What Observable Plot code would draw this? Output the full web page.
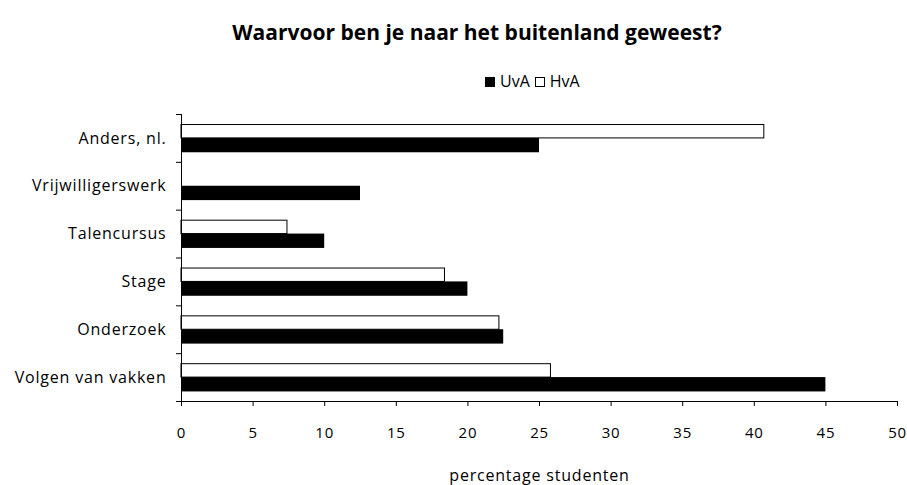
<!DOCTYPE html>
<html>
<head>
<meta charset="utf-8">
<script src="https://cdn.jsdelivr.net/npm/d3@7"></script>
<script src="https://cdn.jsdelivr.net/npm/@observablehq/plot@0.6"></script>
<style>
  body { margin: 0; background: #fff; font-family: "Open Sans", sans-serif; }
  #wrap { width: 907px; }
  #title { height: 58px; padding-top: 18px; box-sizing: border-box; text-align: center; font-weight: 700; font-size: 21px; padding-left: 47px; color: #000; }
  #legend { height: 37px; box-sizing: border-box; padding-top: 12px; font-size: 16px; color: #000; padding-left: 485px; }
  #legend span.sw { display: inline-block; width: 10px; height: 10px; border: 1px solid #000; box-sizing: border-box; vertical-align: 0px; margin-right: 5px; }
  #legend span.item { margin-right: 5px; }
  #chart svg text { letter-spacing: 0.8px; }
</style>
</head>
<body>
<div id="wrap">
  <div id="title">Waarvoor ben je naar het buitenland geweest?</div>
  <div id="legend"></div>
  <div id="chart"></div>
</div>
<script>
// Categories listed bottom to top
const categories = ["Volgen van vakken", "Onderzoek", "Stage", "Talencursus", "Vrijwilligerswerk", "Anders, nl."];
const uvaValues = [45, 22.5, 20, 10, 12.5, 25];
const hvaValues = [25.8, 22.2, 18.4, 7.4, null, 40.7];
const seriesNames = ["UvA", "HvA"];
const seriesFills = ["#000000", "#ffffff"];
const xTicks = [0, 5, 10, 15, 20, 25, 30, 35, 40, 45, 50];
const xLabel = "percentage studenten";

const uvaRows = categories.map((c, i) => ({cat: c, i, value: uvaValues[i]})).filter(d => d.value != null);
const hvaRows = categories.map((c, i) => ({cat: c, i, value: hvaValues[i]})).filter(d => d.value != null);

// legend
const legend = document.getElementById("legend");
seriesNames.forEach((s, k) => {
  const item = document.createElement("span");
  item.className = "item";
  item.innerHTML = `<span class="sw" style="background:${seriesFills[k]}"></span>${s}`;
  legend.appendChild(item);
});

const boundaries = d3.range(0, categories.length + 1);
const centers = categories.map((c, i) => i + 0.5);

const chart = Plot.plot({
  width: 907,
  height: 390,
  marginLeft: 181,
  marginRight: 10,
  marginTop: 19,
  marginBottom: 84,
  style: {fontFamily: "'Open Sans', sans-serif", color: "#000", background: "#fff"},
  x: {domain: [0, 50]},
  y: {domain: [0, categories.length]},
  marks: [
    Plot.rect(hvaRows, {x1: 0, x2: "value", y1: d => d.i + 0.5, y2: d => d.i + 0.78, fill: seriesFills[1], stroke: "#000", strokeWidth: 1}),
    Plot.rect(uvaRows, {x1: 0, x2: "value", y1: d => d.i + 0.2, y2: d => d.i + 0.5, fill: seriesFills[0]}),
    Plot.ruleX([0], {y1: 0, y2: categories.length, stroke: "#000"}),
    Plot.ruleY([0], {x1: 0, x2: 50, stroke: "#000"}),
    Plot.axisY({ticks: boundaries, tickFormat: () => "", tickSize: 5, label: null}),
    Plot.axisY({ticks: centers, tickSize: 0, tickPadding: 15, fontSize: 16, tickFormat: d => categories[Math.floor(d)], label: null}),
    Plot.axisX({ticks: xTicks, tickSize: 5, tickPadding: 21, fontSize: 15, tickFormat: d => String(d), label: null}),
    Plot.axisX({ticks: [], tickSize: 0, label: xLabel, labelAnchor: "center", labelOffset: 79, labelArrow: "none", fontSize: 16})
  ]
});
chart.querySelectorAll("text").forEach(t => t.style.fill = "#000");
document.getElementById("chart").appendChild(chart);
</script>
</body>
</html>
